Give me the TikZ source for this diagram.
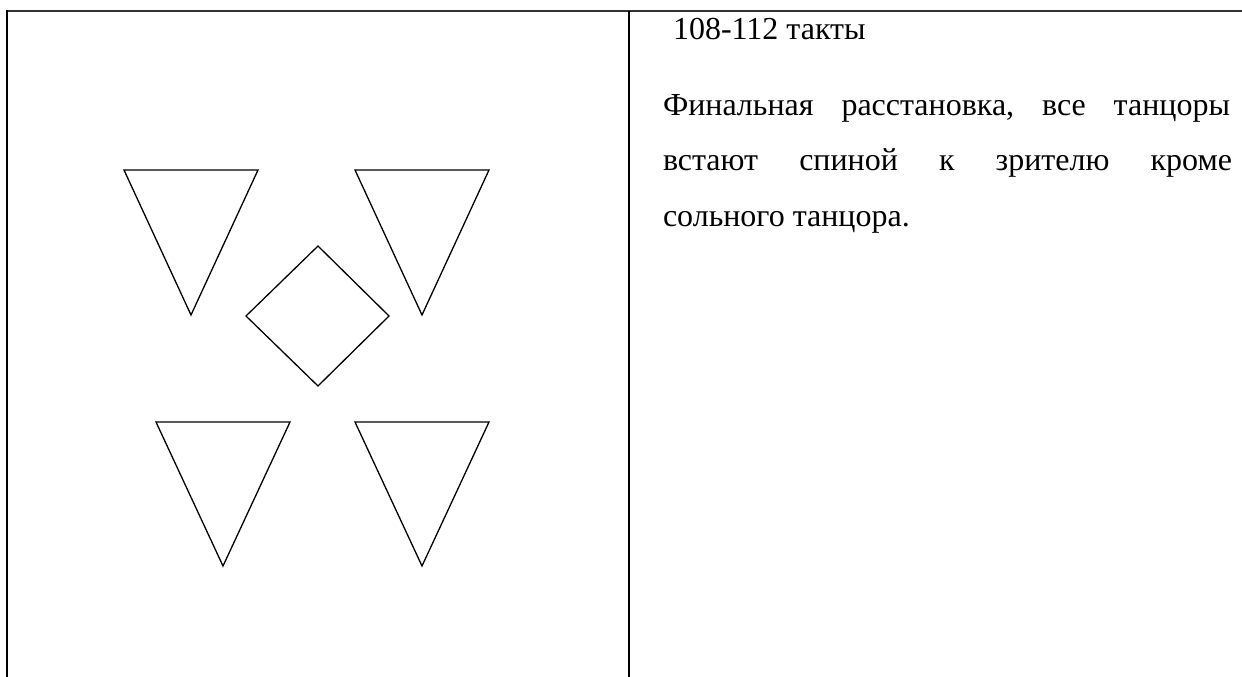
\documentclass[tikz,border=0pt]{standalone}
\usepackage{fontspec}
\setmainfont{Liberation Serif}
\begin{document}
\begin{tikzpicture}[x=1pt,y=-1pt,
  rule/.style={line width=1.2pt,black},
  toprule/.style={line width=2pt,black!80},
  figline/.style={line width=1.3pt,black,line join=miter},
  txt/.style={anchor=base west,inner sep=0pt,outer sep=0pt,font=\fontsize{32pt}{38pt}\selectfont}]
\useasboundingbox (0,0) rectangle (1242,677);
% table rules
\draw[toprule] (6,11) -- (1242,11);
\draw[line width=1.6pt] (7,10) -- (7,677);
\draw[rule] (629,11) -- (629,677);
% dancers
\draw[figline] (124,170) -- (258,170) -- (191,315) -- cycle;
\draw[figline] (355,170) -- (489,170) -- (422,315) -- cycle;
\draw[figline] (318,246) -- (389,316) -- (318,386) -- (246,316) -- cycle;
\draw[figline] (156,422) -- (290,422) -- (223,566) -- cycle;
\draw[figline] (355,422) -- (489,422) -- (422,566) -- cycle;
% text
\node[txt] (t0) at (673,40) {108-112 такты};
\node[txt] (t1) at (663,115) {\makebox[567pt][s]{Финальная\hfill расстановка,\hfill все\hfill танцоры}};
\node[txt] (t2) at (663,170) {\makebox[569pt][s]{встают\hfill спиной\hfill к\hfill зрителю\hfill кроме}};
\node[txt] (t3) at (663,226) {сольного танцора.};
\end{tikzpicture}
\end{document}
